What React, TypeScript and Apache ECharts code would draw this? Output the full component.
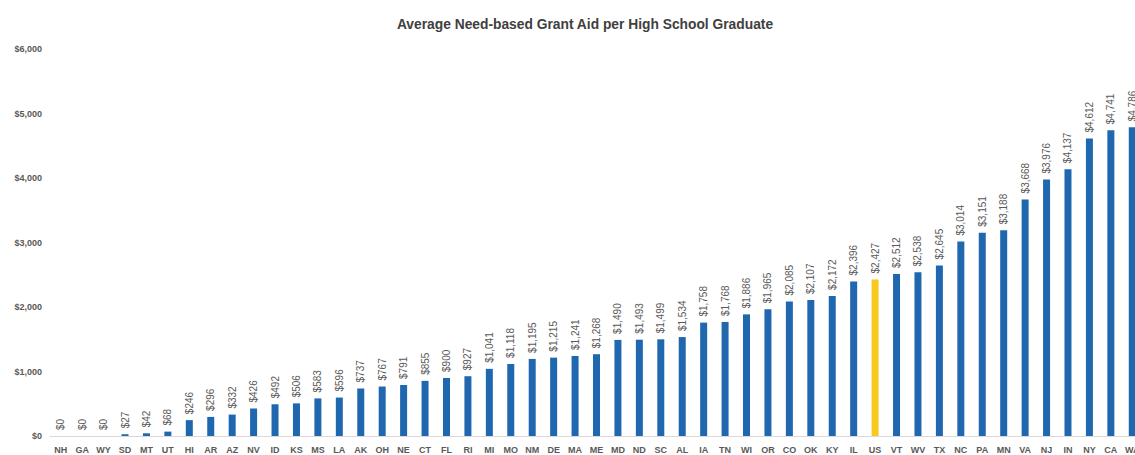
import React, { useEffect, useRef } from "react";
import * as echarts from "echarts";

const states = ["NH","GA","WY","SD","MT","UT","HI","AR","AZ","NV","ID","KS","MS","LA","AK","OH","NE","CT","FL","RI","MI","MO","NM","DE","MA","ME","MD","ND","SC","AL","IA","TN","WI","OR","CO","OK","KY","IL","US","VT","WV","TX","NC","PA","MN","VA","NJ","IN","NY","CA","WA"];
const grantAid = [0,0,0,27,42,68,246,296,332,426,492,506,583,596,737,767,791,855,900,927,1041,1118,1195,1215,1241,1268,1490,1493,1499,1534,1758,1768,1886,1965,2085,2107,2172,2396,2427,2512,2538,2645,3014,3151,3188,3668,3976,4137,4612,4741,4786];
const highlightState = "US";
const yTicks = [0, 1000, 2000, 3000, 4000, 5000, 6000];

const BLUE = "#1F67AF";
const GOLD = "#F7C81E";
const fmt = (v: number) => "$" + v.toLocaleString("en-US");

export default function App() {
  const ref = useRef<HTMLDivElement>(null);
  useEffect(() => {
    const chart = echarts.init(ref.current!, null, { renderer: "svg" });
    chart.setOption({
      animation: false,
      title: {
        text: "Average Need-based Grant Aid per High School Graduate",
        left: 580,
        textAlign: "center",
        top: 12,
        textStyle: { fontFamily: "Liberation Sans, Arial, sans-serif", fontSize: 13.8, fontWeight: "bold", color: "#404040" },
      },
      grid: { left: 50, right: 0, top: 49, bottom: 19, containLabel: false },
      xAxis: {
        type: "category",
        data: states,
        axisLine: { show: true, lineStyle: { color: "#D9D9D9", width: 1 } },
        axisTick: { show: false },
        axisLabel: {
          interval: 0,
          margin: 9,
          fontFamily: "Liberation Sans, Arial, sans-serif",
          fontSize: 9,
          fontWeight: "bold",
          color: "#595959",
        },
      },
      yAxis: {
        type: "value",
        min: yTicks[0],
        max: yTicks[yTicks.length - 1],
        interval: 1000,
        splitLine: { show: false },
        axisLine: { show: false },
        axisTick: { show: false },
        axisLabel: {
          margin: 8,
          formatter: (v: number) => fmt(v),
          fontFamily: "Liberation Sans, Arial, sans-serif",
          fontSize: 9,
          fontWeight: "bold",
          color: "#595959",
        },
      },
      series: [
        {
          type: "bar",
          barWidth: 7,
          data: grantAid.map((v, i) => ({
            value: v,
            itemStyle: { color: states[i] === highlightState ? GOLD : BLUE },
          })),
          label: {
            show: true,
            position: "top",
            rotate: 90,
            align: "left",
            verticalAlign: "middle",
            distance: 6,
            formatter: (p: any) => fmt(p.value),
            fontFamily: "Liberation Sans Narrow, Liberation Sans, Arial, sans-serif",
            fontSize: 10,
            color: "#595959",
          },
        },
      ],
    });
    return () => chart.dispose();
  }, []);
  return (
    <div style={{ position: "absolute", left: 0, top: 0, width: 1135, height: 455, overflow: "hidden", background: "#fff" }}>
      <div ref={ref} style={{ width: 1143, height: 455 }} />
    </div>
  );
}
